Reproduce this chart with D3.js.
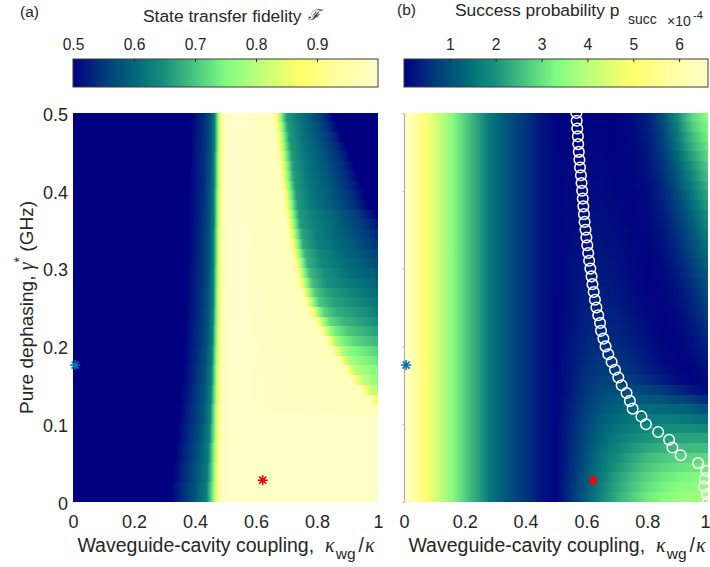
<!DOCTYPE html>
<html><head><meta charset="utf-8">
<script src="https://cdn.jsdelivr.net/npm/d3@7"></script>
<style>
body{margin:0;background:#fff}
svg text{font-family:"Liberation Sans",Arial,Helvetica,sans-serif;fill:#262626}
</style>
</head><body><svg id="c" width="710" height="567"></svg>
<script>
// ---------------- data ----------------
const kappaTicks = [0, 0.2, 0.4, 0.6, 0.8, 1];
const kappaTickLabels = ["0", "0.2", "0.4", "0.6", "0.8", "1"];
const gammaTicks = [0, 0.1, 0.2, 0.3, 0.4, 0.5];
const gammaTickLabels = ["0", "0.1", "0.2", "0.3", "0.4", "0.5"];
const fidTicks = [0.5, 0.6, 0.7, 0.8, 0.9];
const fidTickLabels = ["0.5", "0.6", "0.7", "0.8", "0.9"];
const psuccTicks = [1, 2, 3, 4, 5, 6];
const psuccTickLabels = ["1", "2", "3", "4", "5", "6"];
const fidDomain = [0.5, 1.0];
const psuccDomain = [0, 6.63];   // x 1e-4

// coarse rows (pure dephasing, GHz), half-height 0.0125
const gammaRows = [0.4875,0.4625,0.4375,0.4125,0.3875,0.3625,0.3375,0.3125,0.2875,0.2625,
                   0.2375,0.2125,0.1875,0.1625,0.1375,0.1125,0.0875,0.0625,0.0375,0.0125];
const gammaHalf = 0.0125;
// fine rows, half-height 0.00625
const fineGammaRows = [0.49375,0.48125,0.46875,0.45625,0.44375,0.43125,0.41875,0.40625,0.39375,0.38125,
  0.36875,0.35625,0.34375,0.33125,0.31875,0.30625,0.29375,0.28125,0.26875,0.25625,0.24375,0.23125,
  0.21875,0.20625,0.19375,0.18125,0.16875,0.15625,0.14375,0.13125,0.11875,0.10625,0.09375,0.08125,
  0.06875,0.05625,0.04375,0.03125,0.01875,0.00625];
const fineGammaHalf = 0.00625;

// (a) fidelity, left edge (kappa 0..0.55): kappa where fidelity reaches each level, per coarse row
const fidLeftLevels = [0.5, 0.54, 0.58, 0.63, 0.72, 0.80, 0.88, 0.98];
const fidLeftX = [
 [.385,.430,.452,.464,.472,.478,.485,.493],
 [.384,.429,.451,.464,.472,.478,.485,.493],
 [.383,.428,.451,.463,.471,.477,.484,.492],
 [.382,.427,.450,.463,.471,.477,.484,.492],
 [.380,.426,.449,.462,.470,.476,.483,.491],
 [.378,.424,.448,.462,.470,.476,.483,.491],
 [.376,.422,.447,.461,.469,.475,.482,.490],
 [.374,.420,.446,.461,.469,.475,.482,.490],
 [.372,.418,.445,.460,.468,.475,.482,.490],
 [.370,.416,.444,.460,.468,.474,.481,.489],
 [.368,.413,.442,.459,.467,.474,.481,.489],
 [.365,.410,.440,.458,.466,.473,.480,.488],
 [.362,.406,.437,.456,.465,.472,.479,.488],
 [.358,.401,.434,.454,.464,.471,.479,.487],
 [.353,.395,.430,.452,.463,.470,.478,.487],
 [.348,.389,.425,.450,.461,.469,.477,.486],
 [.342,.382,.419,.447,.460,.468,.476,.485],
 [.336,.375,.413,.444,.458,.467,.475,.484],
 [.329,.368,.406,.441,.457,.466,.474,.484],
 [.320,.360,.400,.438,.455,.465,.473,.483]
];

// (a) fidelity, right decay (kappa 0.55..1): [kappa, fidelity] pairs per fine row
const fidRightTail = [
 [[.657,.98],[.669,.87],[.682,.76],[.700,.66],[.737,.62],[.785,.58],[.825,.54],[.855,.50]],
 [[.661,.98],[.673,.87],[.686,.76],[.705,.66],[.743,.62],[.795,.58],[.838,.54],[.868,.50]],
 [[.665,.98],[.677,.87],[.690,.76],[.709,.66],[.748,.62],[.803,.58],[.850,.54],[.882,.50]],
 [[.668,.98],[.680,.87],[.693,.76],[.713,.66],[.753,.62],[.812,.58],[.862,.54],[.897,.50]],
 [[.672,.98],[.684,.87],[.697,.76],[.717,.66],[.758,.62],[.822,.58],[.873,.54],[.910,.50]],
 [[.676,.98],[.688,.87],[.701,.76],[.721,.66],[.763,.62],[.830,.58],[.884,.54],[.922,.50]],
 [[.679,.98],[.691,.87],[.704,.76],[.724,.66],[.768,.62],[.838,.58],[.894,.54],[.934,.50]],
 [[.683,.98],[.695,.87],[.708,.76],[.728,.66],[.773,.62],[.846,.58],[.904,.54],[.946,.50]],
 [[.687,.98],[.699,.87],[.712,.76],[.732,.66],[.778,.62],[.855,.58],[.915,.54],[.958,.50]],
 [[.691,.98],[.703,.87],[.716,.76],[.736,.66],[.783,.62],[.863,.58],[.926,.54],[.970,.50]],
 [[.696,.98],[.708,.87],[.721,.76],[.741,.66],[.788,.63],[.870,.59],[.936,.55],[.985,.51],[1,.50]],
 [[.700,.98],[.712,.87],[.725,.76],[.745,.66],[.793,.63],[.878,.59],[.946,.55],[1,.52]],
 [[.705,.98],[.717,.87],[.730,.76],[.750,.67],[.798,.63],[.885,.59],[.955,.555],[1,.535]],
 [[.711,.98],[.723,.87],[.736,.76],[.756,.67],[.803,.63],[.892,.595],[1,.545]],
 [[.717,.98],[.729,.87],[.742,.77],[.762,.68],[.808,.64],[.898,.60],[1,.558]],
 [[.724,.98],[.736,.87],[.749,.77],[.769,.68],[.815,.64],[.905,.605],[1,.57]],
 [[.731,.98],[.743,.87],[.756,.77],[.776,.69],[.822,.65],[.912,.61],[1,.583]],
 [[.739,.98],[.751,.87],[.765,.77],[.786,.69],[.832,.65],[.920,.62],[1,.595]],
 [[.749,.98],[.761,.87],[.775,.77],[.796,.70],[.842,.66],[.930,.63],[1,.605]],
 [[.761,.98],[.773,.87],[.787,.77],[.808,.70],[.855,.665],[1,.615]],
 [[.776,.98],[.789,.87],[.803,.78],[.825,.71],[.870,.675],[1,.628]],
 [[.794,.98],[.807,.87],[.821,.78],[.843,.72],[.888,.685],[1,.645]],
 [[.812,.98],[.825,.87],[.840,.79],[.863,.735],[.905,.70],[1,.665]],
 [[.832,.98],[.845,.87],[.860,.79],[.884,.745],[.925,.715],[1,.685]],
 [[.852,.98],[.865,.87],[.881,.80],[.905,.76],[.945,.735],[1,.71]],
 [[.872,.98],[.886,.87],[.902,.80],[.928,.77],[1,.73]],
 [[.894,.98],[.908,.87],[.925,.805],[.953,.78],[1,.75]],
 [[.916,.98],[.931,.87],[.948,.81],[.975,.785],[1,.77]],
 [[.945,.98],[.960,.87],[.977,.82],[1,.80]],
 [[.975,.98],[.990,.88],[1,.85]],
 [[.995,.98],[1,.95]],
 [],[],[],[],[],[],[],[],[]
];

// (b) success probability (x1e-4): left part (kappa 0..0.5) is the same for every dephasing
const psuccXLeft = [0, 0.03, 0.07, 0.11, 0.16, 0.22, 0.28, 0.34, 0.40, 0.45, 0.50];
const psuccLeft  = [6.6, 6.1, 5.1, 4.3, 3.4, 2.5, 1.6, 1.05, 0.6, 0.25, 0.05];
// right part (kappa 0.5..1) per fine row
const psuccXRight = [0.50, 0.55, 0.60, 0.65, 0.70, 0.75, 0.80, 0.85, 0.90, 0.95, 1.00];
const psuccRight = [
 [.05,.04,.04,.04,.03,.11,.37,.95,1.88,2.88,3.45],
 [.05,.04,.05,.04,.03,.09,.33,.85,1.72,2.72,3.33],
 [.05,.05,.05,.05,.04,.08,.30,.78,1.60,2.52,3.18],
 [.05,.05,.06,.05,.04,.07,.27,.72,1.50,2.38,3.03],
 [.05,.06,.07,.06,.04,.06,.24,.64,1.36,2.20,2.88],
 [.05,.07,.09,.07,.04,.06,.21,.57,1.24,2.02,2.72],
 [.05,.08,.10,.09,.05,.05,.18,.51,1.11,1.88,2.58],
 [.05,.09,.12,.11,.05,.05,.15,.45,1.00,1.73,2.42],
 [.05,.10,.13,.12,.06,.04,.12,.40,.90,1.58,2.28],
 [.05,.11,.15,.14,.08,.04,.10,.35,.80,1.43,2.12],
 [.05,.11,.16,.16,.09,.04,.09,.30,.72,1.31,1.98],
 [.05,.12,.18,.18,.11,.04,.07,.26,.64,1.19,1.83],
 [.05,.13,.19,.20,.13,.05,.06,.22,.56,1.08,1.70],
 [.05,.13,.21,.22,.15,.06,.05,.18,.49,.97,1.55],
 [.05,.14,.23,.24,.17,.07,.04,.15,.43,.87,1.42],
 [.05,.15,.25,.26,.19,.09,.04,.12,.37,.77,1.29],
 [.05,.16,.27,.29,.22,.11,.04,.09,.31,.68,1.16],
 [.05,.17,.29,.31,.24,.13,.04,.07,.25,.60,1.04],
 [.05,.17,.31,.34,.27,.15,.05,.06,.20,.52,.93],
 [.05,.18,.33,.37,.30,.18,.07,.05,.16,.44,.83],
 [.05,.19,.35,.40,.34,.21,.09,.04,.12,.37,.73],
 [.05,.20,.38,.44,.38,.25,.11,.04,.09,.31,.63],
 [.05,.21,.41,.48,.43,.30,.14,.05,.06,.25,.54],
 [.05,.23,.44,.52,.47,.34,.18,.06,.05,.19,.46],
 [.05,.24,.47,.57,.53,.40,.23,.09,.04,.14,.37],
 [.05,.26,.50,.63,.59,.47,.29,.13,.04,.09,.28],
 [.05,.27,.53,.68,.67,.55,.37,.19,.06,.05,.19],
 [.05,.29,.58,.77,.79,.69,.52,.32,.14,.04,.10],
 [.05,.31,.63,.87,.96,.93,.82,.65,.45,.24,.10],
 [.05,.34,.68,.97,1.12,1.17,1.13,1.03,.87,.68,.45],
 [.05,.38,.76,1.08,1.27,1.38,1.40,1.37,1.29,1.16,.98],
 [.05,.41,.82,1.18,1.40,1.56,1.63,1.65,1.62,1.55,1.45],
 [.05,.44,.88,1.27,1.53,1.72,1.84,1.91,1.93,1.91,1.85],
 [.05,.46,.92,1.34,1.66,1.88,2.04,2.15,2.21,2.22,2.20],
 [.05,.49,.97,1.45,1.78,2.05,2.27,2.40,2.48,2.52,2.52],
 [.05,.51,1.02,1.54,1.91,2.23,2.50,2.67,2.78,2.85,2.87],
 [.05,.54,1.07,1.61,2.03,2.36,2.65,2.85,2.98,3.06,3.10],
 [.05,.56,1.12,1.68,2.15,2.52,2.83,3.04,3.20,3.30,3.36],
 [.05,.58,1.16,1.75,2.23,2.63,2.96,3.20,3.38,3.49,3.57],
 [.05,.61,1.21,1.82,2.33,2.74,3.10,3.36,3.56,3.67,3.76]
];

// (b) open circles: optimal coupling vs dephasing
const circleGamma = [0.50,0.49,0.48,0.47,0.46,0.45,0.44,0.43,0.42,0.41,0.40,0.39,0.38,0.37,0.36,0.35,0.34,
  0.33,0.32,0.31,0.30,0.29,0.28,0.27,0.26,0.25,0.24,0.23,0.22,0.21,0.20,0.19,0.18,0.17,0.16,0.15,0.14,
  0.13,0.12,0.11,0.10,0.09,0.08,0.07,0.06,0.05,0.04,0.03,0.02,0.01,0.00];
const circleKappa = [0.567,0.568,0.570,0.572,0.573,0.575,0.577,0.579,0.582,0.584,0.586,0.588,0.590,0.592,
  0.594,0.597,0.600,0.603,0.606,0.609,0.613,0.617,0.620,0.624,0.628,0.633,0.639,0.645,0.648,0.656,0.663,
  0.672,0.683,0.694,0.705,0.716,0.732,0.743,0.752,0.781,0.796,0.836,0.872,0.883,0.910,0.967,0.995,0.990,
  0.987,0.997,1.000];

// star markers
const starPoints = [{kappa: 0.007, gamma: 0.176, color: "#0072bd"}, {kappa: 0.622, gamma: 0.028, color: "#ff0000"}];

// ---------------- drawing ----------------
const cmapT = [0, 0.1, 0.2, 0.3, 0.4, 0.5, 0.6, 0.7, 0.75, 0.87, 1];
const cmapC = ["#000080","#003a7c","#00677a","#16917c","#4cc680","#80fc80","#b8ff7c","#eaff70","#ffff6a","#ffff9e","#ffffc8"];
function colorScale(dom) {
  return d3.scaleLinear().domain(cmapT.map(t => dom[0] + t * (dom[1] - dom[0]))).range(cmapC).clamp(true);
}

const svg = d3.select("#c");
const defs = svg.append("defs");
const PY0 = 113, PY1 = 502;
const yScale = d3.scaleLinear().domain([0, 0.5]).range([PY1, PY0]);
const CBY0 = 59, CBY1 = 87;

function drawRows(g, id, xs, kFrom, kTo, gammas, half, rowsPts, color) {
  const x0 = xs(kFrom), w = xs(kTo) - xs(kFrom);
  rowsPts.forEach((pts, i) => {
    const gid = id + "-r" + i;
    const grad = defs.append("linearGradient").attr("id", gid).attr("x1", 0).attr("x2", 1).attr("y1", 0).attr("y2", 0);
    pts.forEach(p => grad.append("stop").attr("offset", Math.max(0, Math.min(1, (xs(p[0]) - x0) / w))).attr("stop-color", color(p[1])));
    const gm = gammas[i];
    const yt = Math.floor(yScale(Math.min(0.5, gm + half)));
    const yb = Math.ceil(yScale(Math.max(0, gm - half)));
    g.append("rect").attr("x", x0).attr("width", w).attr("y", yt).attr("height", yb - yt + (i < rowsPts.length - 1 ? 1 : 0))
      .attr("fill", `url(#${gid})`).attr("shape-rendering", "crispEdges");
  });
}

function star(g, x, y, color) {
  const r = 5;
  let d = "";
  for (let k = 0; k < 4; k++) {
    const a = k * Math.PI / 4;
    d += `M${x - r * Math.cos(a)},${y - r * Math.sin(a)}L${x + r * Math.cos(a)},${y + r * Math.sin(a)}`;
  }
  g.append("path").attr("d", d).attr("stroke", color).attr("stroke-width", 1.6).attr("fill", "none");
}

function xLabel(cx) {
  const t = svg.append("text").attr("x", cx).attr("y", 552).attr("text-anchor", "middle").style("font-size", "19.5px");
  t.append("tspan").text("Waveguide-cavity coupling,");
  t.append("tspan").attr("dx", 11).style("font-family", "'Liberation Serif',serif").style("font-style", "italic").style("font-size", "20px").text("κ");
  t.append("tspan").attr("dx", 1).attr("dy", 7).style("font-size", "15.5px").text("wg");
  t.append("tspan").attr("dx", 3).attr("dy", -7).text("/");
  t.append("tspan").attr("dx", 1).style("font-family", "'Liberation Serif',serif").style("font-style", "italic").style("font-size", "20px").text("κ");
}

function colorbar(x0, x1, dom, ticks, labels, id) {
  const grad = defs.append("linearGradient").attr("id", id).attr("x1", 0).attr("x2", 1).attr("y1", 0).attr("y2", 0);
  cmapT.forEach((t, i) => grad.append("stop").attr("offset", t).attr("stop-color", cmapC[i]));
  svg.append("rect").attr("x", x0).attr("y", CBY0).attr("width", x1 - x0).attr("height", CBY1 - CBY0)
    .attr("fill", `url(#${id})`).attr("stroke", "#3a3a3a").attr("stroke-width", 1);
  const sc = d3.scaleLinear().domain(dom).range([x0, x1]);
  const ax = d3.axisTop(sc).tickValues(ticks).tickFormat((d, i) => labels[i]).tickSize(-3).tickPadding(9);
  const g = svg.append("g").attr("transform", `translate(0,${CBY0})`).call(ax);
  g.select(".domain").remove();
  g.selectAll(".tick line").attr("stroke", "#262626");
  g.selectAll(".tick text").attr("fill", "#262626").style("font-size", "15.6px").style("font-family", "'Liberation Sans',Arial,sans-serif");
}

function panel(x0, x1, showY) {
  const xs = d3.scaleLinear().domain([0, 1]).range([x0, x1]);
  const ax = d3.axisBottom(xs).tickValues(kappaTicks).tickFormat((d, i) => kappaTickLabels[i]).tickSize(0).tickPadding(13.5);
  const gx = svg.append("g").attr("transform", `translate(0,${PY1})`).call(ax);
  gx.select(".domain").remove();
  gx.selectAll(".tick text").attr("fill", "#262626").style("font-size", "18px").style("font-family", "'Liberation Sans',Arial,sans-serif");
  if (showY) {
    const ay = d3.axisLeft(yScale).tickValues(gammaTicks).tickFormat((d, i) => gammaTickLabels[i]).tickSize(0).tickPadding(5);
    const gy = svg.append("g").attr("transform", `translate(${x0},0)`).call(ay);
    gy.select(".domain").remove();
    gy.selectAll(".tick text").attr("fill", "#262626").attr("dy", "0.4em").style("font-size", "18px").style("font-family", "'Liberation Sans',Arial,sans-serif");
  } else {
    gx.selectAll(".tick text").filter((d) => d === 1).attr("dx", -3);
  }
  return {xs, gx};
}

// (a)
const pa = panel(73, 378, true);
const colA = colorScale(fidDomain);
const gA = svg.insert("g", ":first-child");
const rowsALeft = gammaRows.map((gm, i) =>
  [[0, 0.5]].concat(fidLeftX[i].map((x, j) => [x, fidLeftLevels[j]])).concat([[0.505, 1.0], [0.56, 1.0]]));
drawRows(gA, "paL", pa.xs, 0, 0.555, gammaRows, gammaHalf, rowsALeft, colA);
const rowsARight = fineGammaRows.map((gm, i) => {
  const pts = [[0.55, 1.0]];
  const tail = fidRightTail[i];
  if (tail.length) {
    tail.forEach(p => pts.push(p));
    const last = tail[tail.length - 1];
    if (last[0] < 1) pts.push([1, last[1]]);
  } else pts.push([1, 1.0]);
  return pts;
});
drawRows(gA, "paR", pa.xs, 0.55, 1, fineGammaRows, fineGammaHalf, rowsARight, colA);

// (b)
const pb = panel(404, 708, false);
const colB = colorScale(psuccDomain);
const gB = svg.insert("g", ":first-child");
// left part: one full-height band
drawRows(gB, "pbL", pb.xs, 0, 0.505, [0.25], 0.25, [psuccXLeft.map((x, j) => [x, psuccLeft[j]])], colB);
const rowsBRight = fineGammaRows.map((gm, i) => psuccXRight.map((x, j) => [x, psuccRight[i][j]]));
drawRows(gB, "pbR", pb.xs, 0.5, 1, fineGammaRows, fineGammaHalf, rowsBRight, colB);
// left axis line of (b)
const ayB = d3.axisLeft(yScale).tickValues(gammaTicks).tickFormat("").tickSize(2).tickSizeOuter(0);
const gyB = svg.append("g").attr("transform", `translate(404,0)`).call(ayB);
gyB.select(".domain").attr("stroke", "#a8a8a8");
gyB.selectAll(".tick line").attr("stroke", "#c8c8c8");

// circles in (b)
defs.append("clipPath").attr("id", "clipB").append("rect").attr("x", 404).attr("y", PY0).attr("width", 306).attr("height", PY1 - PY0);
svg.append("g").attr("clip-path", "url(#clipB)").selectAll("circle").data(circleGamma).join("circle")
  .attr("cx", (d, i) => pb.xs(circleKappa[i])).attr("cy", d => yScale(d)).attr("r", 5.3)
  .attr("fill", "none").attr("stroke", "#ffffff").attr("stroke-width", 1.5);

// stars
[pa, pb].forEach(p => starPoints.forEach(s => star(svg, p.xs(s.kappa), yScale(s.gamma), s.color)));

// colorbars
colorbar(73, 378, fidDomain, fidTicks, fidTickLabels, "cbA");
colorbar(404, 708, psuccDomain, psuccTicks, psuccTickLabels, "cbB");

// labels
xLabel(226);
xLabel(557);
const yl = svg.append("text").attr("transform", "translate(33,307.5) rotate(-90)").attr("text-anchor", "middle").style("font-size", "19px");
yl.append("tspan").text("Pure dephasing, ");
yl.append("tspan").style("font-family", "'Liberation Serif',serif").style("font-style", "italic").style("font-size", "20px").text("γ");
yl.append("tspan").attr("dy", -9).style("font-size", "14px").text("*");
yl.append("tspan").attr("dy", 9).text(" (GHz)");

// titles
svg.append("text").attr("x", 20).attr("y", 17).style("font-size", "15.5px").text("(a)");
const ta = svg.append("text").attr("x", 143).attr("y", 22).style("font-size", "17.4px");
ta.append("tspan").text("State transfer fidelity ");
ta.append("tspan").attr("dx", 2).attr("dy", -2).style("font-family", "'DejaVu Serif',serif").style("font-style", "italic").style("font-size", "15px").text("ℱ");
svg.append("text").attr("x", 397).attr("y", 14.5).style("font-size", "15.5px").text("(b)");
svg.append("text").attr("x", 455).attr("y", 16).style("font-size", "17.4px").text("Success probability p");
svg.append("text").attr("x", 628).attr("y", 24).style("font-size", "14px").text("succ");
svg.append("text").attr("x", 667).attr("y", 26).style("font-size", "14px").text("×10");
svg.append("text").attr("x", 693).attr("y", 19).style("font-size", "11px").text("-4");
</script>
</body></html>
